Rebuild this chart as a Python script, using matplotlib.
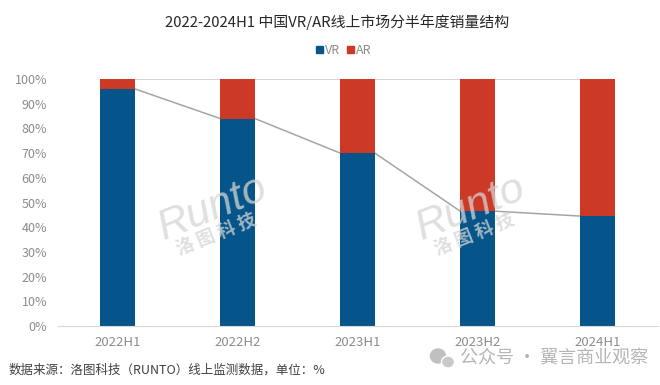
import matplotlib
matplotlib.use("Agg")
import matplotlib.pyplot as plt
from matplotlib.patches import Ellipse, Rectangle

plt.rcParams["font.family"] = ["Noto Sans CJK SC", "DejaVu Sans"]

# === DATOS === #
periodos = ["2022H1", "2022H2", "2023H1", "2023H2", "2024H1"]
vr = [96, 84, 70, 46.5, 44.5]
ar = [4, 16, 30, 53.5, 55.5]
ticks_y = [0, 10, 20, 30, 40, 50, 60, 70, 80, 90, 100]

AZUL = "#05558a"
ROJO = "#cc3a27"
GRIS = "#8c8c8c"
ANCHO = 0.288

W, H = 660, 385
fig = plt.figure(figsize=(W / 100, H / 100), dpi=100, facecolor="white")
ax = fig.add_axes([57.5 / W, 1 - 326 / H, 600 / W, 247 / H])

pos = list(range(len(periodos)))
ax.bar(pos, vr, width=ANCHO, color=AZUL, zorder=2)
ax.bar(pos, ar, width=ANCHO, bottom=vr, color=ROJO, zorder=2)

# lineas de serie entre barras
for i in pos[:-1]:
    x = [i + ANCHO / 2, i + 1 - ANCHO / 2]
    ax.plot(x, [vr[i], vr[i + 1]], color="#a5a5a5", lw=1.1, zorder=1)
    ax.plot(x, [100, 100], color="#c9c9c9", lw=1.1, zorder=1)

ax.set_xlim(-0.5, 4.5)
ax.set_ylim(0, 100)
ax.set_xticks(pos)
ax.set_xticklabels(periodos, fontsize=9.5)
ax.set_yticks(ticks_y)
ax.set_yticklabels([f"{t}%" for t in ticks_y], fontsize=9)
ax.tick_params(length=0, labelcolor=GRIS)
ax.tick_params(axis="x", pad=7)
ax.tick_params(axis="y", pad=7.5)
for s in ["top", "left", "right"]:
    ax.spines[s].set_visible(False)
ax.spines["bottom"].set_color("#d9d9d9")

fig.text(337 / W, 1 - 22 / H, "2022-2024H1 中国VR/AR线上市场分半年度销量结构",
         ha="center", va="center", fontsize=10.7, color="#262626")

# leyenda
fig.patches.append(Rectangle((316 / W, 1 - 53 / H), 6.5 / W, 7 / H, color=AZUL,
                             transform=fig.transFigure))
fig.patches.append(Rectangle((347 / W, 1 - 53 / H), 6.5 / W, 7 / H, color=ROJO,
                             transform=fig.transFigure))
for x, t in [(325, "VR"), (356, "AR")]:
    fig.text(x / W, 1 - 50 / H, t, ha="left", va="center", fontsize=9, color=GRIS)

# marcas de agua
for x, y in [(213, 208), (471, 208)]:
    fig.text(x / W, 1 - y / H, "Runto", ha="center", va="center", fontsize=31, rotation=22,
             style="italic", color="#d5d5d5", alpha=0.75, zorder=5,
             family=["Liberation Sans", "DejaVu Sans"])
    fig.text((x + 3) / W, 1 - (y + 26) / H, "洛 图 科 技", ha="center", va="center", fontsize=13,
             rotation=22, fontweight="bold", color="#d5d5d5", alpha=0.75, zorder=5)

# pie
fig.text(9 / W, 1 - 370 / H, "数据来源：洛图科技（RUNTO）线上监测数据，单位：%",
         ha="left", va="center", fontsize=9, color="#404040")
fig.text(460 / W, 1 - 358 / H, "公众号 · 翼言商业观察", ha="left", va="center",
         fontsize=13, color="#b5b5b5")
fig.patches.append(Ellipse((438 / W, 1 - 356 / H), 15 / W, 14 / H, color="#c0c0c0",
                           transform=fig.transFigure))
fig.patches.append(Ellipse((448 / W, 1 - 362 / H), 13 / W, 12 / H, fc="#c9c9c9",
                           ec="white", transform=fig.transFigure))

fig.savefig("out.png", dpi=100)
plt.close(fig)
